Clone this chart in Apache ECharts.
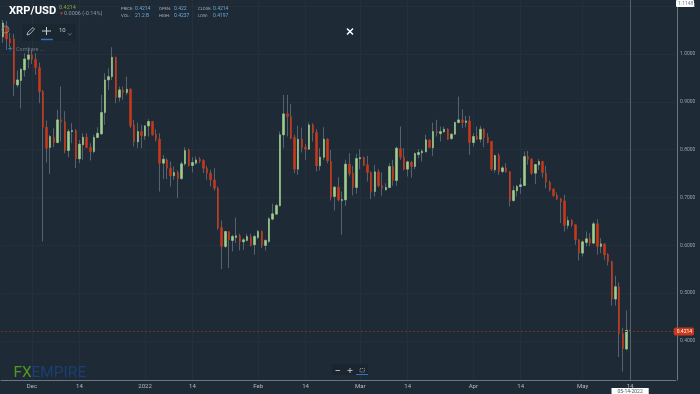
<!DOCTYPE html>
<html>
<head>
<meta charset="utf-8">
<style>
  html, body { margin: 0; padding: 0; background: #1e2a36; }
  #chart { width: 700px; height: 394px; }
</style>
</head>
<body>
<div id="chart"></div>
<script src="https://cdn.jsdelivr.net/npm/echarts@6/dist/echarts.min.js"></script>
<script>
// daily XRP/USD candles, 23 Nov 2021 -> 14 May 2022
const opens = [
  1.0355,1.0563,1.0313,1.0313,.9352,.9443,.9666,.9888,.9979,.9888,
  .9714,.9213,.8469,.8044,.8260,.8148,.8622,.8580,.7981,.8378,
  .8399,.7807,.8100,.8260,.8044,.7960,.8253,.8329,.8775,.9457,
  .9526,.9930,.9095,.9248,.9192,.9262,.8517,.8162,.8378,.8288,
  .8496,.8587,.8322,.8218,.7717,.7786,.7612,.7452,.7522,.7397,
  .7703,.7995,.7668,.7717,.7800,.7772,.7612,.7508,.7369,.7195,
  .6374,.5977,.6290,.6102,.6165,.6200,.6074,.6102,.6172,.6012,
  .6165,.6290,.5998,.6081,.6548,.6652,.6826,.8309,.8747,.8691,
  .8253,.7592,.8218,.8051,.8009,.8517,.8364,.7661,.7842,.8218,
  .7752,.7021,.7216,.6937,.6951,.7696,.7508,.7209,.7807,.7835,
  .7682,.7522,.7125,.7536,.7244,.7160,.7209,.7647,.7355,.8023,
  .7842,.7592,.7738,.7647,.7898,.7933,.7954,.8197,.8037,.8378,
  .8336,.8371,.8427,.8232,.8322,.8566,
  .8622,.8566,.8601,.8148,.8274,.8218,.8427,.8260,.8169,.7578,
  .7877,.7543,.7619,.7536,.6937,.7139,.7230,.7250,.7856,.7800,
  .7508,.7682,.7752,.7508,.7320,.7174,.7049,.6972,.6930,.6415,
  .6520,.6429,.6116,.5838,.6060,.6137,.6046,.6450,.5977,.6026,
  .5810,.5664,.4877,.5135,.4153,.3833,.4220
];
const closes = [
  1.0647,1.0313,1.0229,.9373,.9457,.9680,.9895,.9979,.9888,.9714,
  .9213,.8469,.8030,.8274,.8148,.8622,.8580,.7981,.8378,.8399,
  .7807,.8114,.8260,.8044,.7960,.8253,.8343,.8775,.9457,.9526,
  .9930,.9095,.9248,.9192,.9262,.8496,.8169,.8378,.8288,.8496,
  .8587,.8308,.8218,.7717,.7800,.7612,.7452,.7522,.7397,.7703,
  .7981,.7668,.7731,.7786,.7759,.7612,.7508,.7369,.7195,.6360,
  .5977,.6290,.6116,.6186,.6200,.6074,.6116,.6186,.5998,.6186,
  .6290,.5998,.6102,.6555,.6659,.6833,.8309,.8747,.8691,.8239,
  .7592,.8218,.8044,.8009,.8517,.8357,.7661,.7842,.8218,.7766,
  .7007,.7216,.6951,.6958,.7696,.7494,.7209,.7814,.7835,.7675,
  .7522,.7125,.7536,.7244,.7195,.7209,.7647,.7355,.8030,.7842,
  .7592,.7745,.7647,.7919,.7940,.7968,.8204,.8044,.8378,.8357,
  .8378,.8427,.8218,.8322,.8566,.8622,
  .8566,.8601,.8148,.8274,.8218,.8427,.8253,.8155,.7592,.7877,
  .7543,.7619,.7536,.6937,.7146,.7230,.7264,.7856,.7800,.7508,
  .7689,.7752,.7522,.7320,.7160,.7035,.6965,.6916,.6415,.6520,
  .6429,.6116,.5838,.6074,.6137,.6046,.6450,.5977,.6032,.5803,
  .5664,.4877,.5135,.4153,.3840,.4223,.4214
];
const lows = [
  1.0229,1.0083,1.0146,.9123,.9304,.8858,.9526,.9700,.9791,.9561,
  .8970,.6081,.7731,.7494,.8051,.8134,.8169,.7926,.7842,.8134,
  .7612,.7717,.7786,.8030,.7772,.7926,.8239,.8308,.8517,.9248,
  .9457,.8970,.9004,.9039,.9144,.8448,.8065,.8030,.8030,.8204,
  .8274,.8294,.8169,.7125,.7383,.7383,.7230,.7369,.6986,.7369,
  .7661,.7647,.7522,.7682,.7717,.7508,.7369,.7230,.7146,.6325,
  .5504,.5942,.5525,.5873,.6047,.5893,.5907,.6081,.5977,.5803,
  .6130,.5942,.5893,.6047,.6520,.6631,.6812,.8030,.8274,.8218,
  .7508,.7473,.7940,.7787,.7995,.8169,.7543,.7564,.7787,.7717,
  .6937,.6729,.6917,.6221,.6826,.7439,.7042,.7077,.7592,.7661,
  .7334,.6965,.7021,.7216,.7035,.7146,.7195,.7244,.7244,.7787,
  .7564,.7439,.7418,.7592,.7821,.7752,.7940,.8030,.7870,.8274,
  .8169,.8357,.8204,.8204,.8309,.8552,
  .8448,.8468,.7891,.8065,.8204,.8148,.8051,.8134,.7557,.7522,
  .7473,.7508,.7522,.6812,.6909,.7021,.7076,.7237,.7682,.7473,
  .7278,.7578,.7418,.7195,.7125,.7021,.6951,.6464,.6290,.6339,
  .6381,.6012,.5684,.5768,.5977,.5977,.6032,.5803,.5838,.5698,
  .5580,.4738,.4738,.3666,.3360,.3805,.4197
];
const highs = [
  1.0709,1.0689,1.0438,1.0417,.9652,.9700,1.0014,1.0139,1.0083,1.0014,
  .9819,.9248,.8608,.8308,.8448,.8830,.9318,.8803,.8427,.8552,
  .8427,.8204,.8343,.8343,.8134,.8308,.8469,.9144,.9596,.9700,
  1.0139,.9944,.9318,.9318,.9526,.9283,.8622,.8566,.8517,.8517,
  .8636,.8601,.8427,.8343,.7891,.7821,.7752,.7647,.7564,.7752,
  .8051,.8023,.7842,.7856,.7842,.7800,.7661,.7578,.7612,.7230,
  .6520,.6290,.6290,.6221,.6583,.6241,.6151,.6241,.6241,.6221,
  .6325,.6311,.6130,.6590,.6868,.6868,.8378,.9144,.9144,.8956,
  .8309,.8497,.8462,.8121,.8566,.8552,.8427,.8030,.8469,.8239,
  .7995,.7244,.7425,.7125,.7787,.7926,.7661,.7912,.8009,.7856,
  .7870,.7543,.7682,.7592,.7522,.7299,.7717,.7787,.8065,.8483,
  .8030,.7766,.7766,.7940,.8009,.8009,.8309,.8218,.8566,.8622,
  .8483,.8483,.8448,.8343,.8587,.9109,
  .8844,.8705,.8712,.8343,.8482,.8496,.8448,.8343,.8183,.7891,
  .7926,.7661,.7717,.7550,.7244,.7264,.7404,.7960,.7974,.7821,
  .7703,.7800,.7766,.7661,.7355,.7195,.7104,.6986,.7056,.6603,
  .6548,.6443,.6130,.6102,.6290,.6255,.6492,.6548,.6151,.6046,
  .5838,.5678,.5364,.5225,.4278,.4640,.4237
];

// x axis labels by date
const tickDates = ['2021-12-01','2021-12-14','2022-01-01','2022-01-14','2022-02-01','2022-02-14',
  '2022-03-01','2022-03-14','2022-04-01','2022-04-14','2022-05-01','2022-05-14'];
const tickLabels = ['Dec','14','2022','14','Feb','14','Mar','14','Apr','14','May','14'];
const priceTicks = [0.4, 0.5, 0.6, 0.7, 0.8, 0.9, 1.0, 1.1];
const lastPrice = 0.4214;

// categories: one per day, plus empty days to the right of the last candle
const categories = [];
for (let i = 0; i < opens.length + 12; i++) {
  categories.push(new Date(Date.UTC(2021, 10, 23 + i)).toISOString().slice(0, 10));
}
const isTick = (i, name) => tickDates.indexOf(name) >= 0;

const green = '#9fcf8e', red = '#c8381a', wick = '#56626d';
const bg = '#1e2a36', gridColor = '#24303c', axisColor = '#6d7781';
const font = 'Roboto';

const chart = echarts.init(document.getElementById('chart'));

// small helper for the header text
const txt = (x, y, text, fill, size, weight) => ({
  type: 'text', x, y, z: 50,
  style: { text, fill, fontSize: size, fontFamily: font, fontWeight: weight || 'normal', textVerticalAlign: 'middle' }
});
const line = (x1, y1, x2, y2, stroke, w) => ({
  type: 'line', z: 50, shape: { x1, y1, x2, y2 }, style: { stroke, lineWidth: w || 1 }
});
const labelColor = '#a8b0b8', valueColor = '#69a9d6';

const chrome = [
  // title block
  txt(9, 11, 'XRP/USD', '#ffffff', 11.2, 'bold'),
  txt(59, 7.5, '0.4214', '#7fae2e', 5.5),
  txt(59, 13.5, '▼', '#c8381a', 5),
  txt(64, 13.5, '0.0006 (-0.14%)', '#8f98a1', 5.5),
  txt(121, 8.5, 'PRICE:', labelColor, 4.2),
  txt(135, 8.5, '0.4214', valueColor, 5),
  txt(121, 16, 'VOL:', labelColor, 4.2),
  txt(135, 16, '21.2 B', valueColor, 5),
  txt(159, 8.5, 'OPEN:', labelColor, 4.2),
  txt(174, 8.5, '0.422', valueColor, 5),
  txt(159, 16, 'HIGH:', labelColor, 4.2),
  txt(174, 16, '0.4237', valueColor, 5),
  txt(198, 8.5, 'CLOSE:', labelColor, 4.2),
  txt(213, 8.5, '0.4214', valueColor, 5),
  txt(198, 16, 'LOW:', labelColor, 4.2),
  txt(213, 16, '0.4197', valueColor, 5),
  // drawing toolbar
  { type: 'rect', z: 40, shape: { x: 22, y: 24, width: 54, height: 17 }, style: { fill: 'rgba(24,34,44,0.55)' } },
  { type: 'circle', z: 50, shape: { cx: 5.5, cy: 29.5, r: 3.5 }, style: { fill: 'none', stroke: '#8a939c', lineWidth: 0.8 } },
  { type: 'polyline', z: 50, shape: { points: [[27, 35], [28, 32], [33, 27.5], [34.5, 29], [30, 34], [27, 35]] }, style: { fill: 'none', stroke: '#c9ced3', lineWidth: 0.8 } },
  line(42, 31, 51, 31, '#c9ced3', 1),
  line(46.5, 27, 46.5, 35, '#c9ced3', 1),
  line(41, 39.5, 53, 39.5, '#2e76c0', 1.5),
  txt(59, 30.5, '10', '#c4c9ce', 6),
  { type: 'polyline', z: 50, shape: { points: [[68, 33.5], [69.8, 35], [71.6, 33.5]] }, style: { fill: 'none', stroke: '#8a939c', lineWidth: 0.7 } },
  txt(8, 49, '+', '#2e76c0', 8, 'bold'),
  txt(16, 49.5, 'Compare ...', '#6d7781', 5.5),
  // close button
  line(347, 28.5, 353, 34.5, '#ffffff', 1.5),
  line(353, 28.5, 347, 34.5, '#ffffff', 1.5),
  // zoom controls
  { type: 'rect', z: 40, shape: { x: 332, y: 364, width: 36, height: 11 }, style: { fill: '#1a252f' } },
  line(335.5, 370.5, 340, 370.5, '#b0b6bc', 1),
  line(347.5, 370.5, 352.5, 370.5, '#b0b6bc', 1),
  line(350, 368, 350, 373, '#b0b6bc', 1),
  { type: 'rect', z: 50, shape: { x: 360, y: 368.5, width: 4.5, height: 3.5 }, style: { fill: 'none', stroke: '#b0b6bc', lineWidth: 0.7, lineDash: [1.2, 0.8] } },
  line(356, 374.5, 368, 374.5, '#2e76c0', 1),
  // logo
  txt(13.5, 373, 'FX', '#4f9a1e', 15.5),
  txt(31.5, 373, 'EMPIRE', '#1c3f74', 15.5),
  // crosshair price flag, top right
  { type: 'rect', z: 60, shape: { x: 676, y: 0, width: 18, height: 7, r: 1 }, style: { fill: '#ffffff' } },
  txt(678, 3.5, '1.1148', '#777f87', 5)
];
chrome[chrome.length - 1].z = 61;

const option = {
  animation: false,
  backgroundColor: bg,
  textStyle: { fontFamily: font },
  graphic: chrome,
  grid: { left: 1, top: 0, width: 674.7, height: 380, containLabel: false },
  xAxis: {
    type: 'category',
    data: categories,
    boundaryGap: true,
    axisLine: { lineStyle: { color: axisColor, width: 1 } },
    axisTick: { show: false },
    splitLine: { show: true, alignWithLabel: true, interval: isTick, lineStyle: { color: gridColor, width: 1 } },
    axisLabel: {
      interval: isTick,
      color: '#b4bac0',
      fontSize: 6,
      margin: 3,
      hideOverlap: false,
      formatter: (name) => tickLabels[tickDates.indexOf(name)]
    }
  },
  yAxis: {
    type: 'value',
    position: 'right',
    offset: 1.3,
    min: 0.3186,
    max: 1.1127,
    axisLine: { show: true, lineStyle: { color: axisColor, width: 1 } },
    axisTick: { show: false, customValues: priceTicks },
    splitLine: { show: true, lineStyle: { color: gridColor, width: 1 } },
    axisLabel: {
      customValues: priceTicks,
      color: '#98a1a9',
      fontSize: 5,
      margin: 3,
      formatter: (v) => v.toFixed(4)
    }
  },
  series: [
    {
      // wicks, with the crosshair and last price lines
      name: 'wicks',
      type: 'candlestick',
      barWidth: 1,
      silent: true,
      itemStyle: { color: wick, color0: wick, borderColor: wick, borderColor0: wick, borderWidth: 1 },
      data: opens.map((o, i) => [o, closes[i], lows[i], highs[i]]),
      markLine: {
        silent: true,
        symbol: 'none',
        animation: false,
        data: [
          {
            yAxis: lastPrice,
            lineStyle: { color: '#6e3526', type: [2, 2], width: 1 },
            label: {
              position: 'end', distance: -2, formatter: '0.4214', color: '#fff', fontSize: 5,
              backgroundColor: red, padding: [2, 2, 1, 3], borderRadius: 2
            }
          },
          {
            xAxis: tickDates[tickDates.length - 1],
            lineStyle: { color: '#56626d', type: 'solid', width: 1 },
            label: {
              position: 'start', distance: 8, formatter: '05-14-2022', color: '#4a525a', fontSize: 5,
              backgroundColor: '#ffffff', padding: [1, 6, 1, 6]
            }
          }
        ]
      }
    },
    {
      // bodies only, open to close
      name: 'XRP/USD',
      type: 'candlestick',
      barWidth: 2,
      z: 3,
      itemStyle: { color: green, color0: red, borderColor: green, borderColor0: red, borderWidth: 0.6 },
      data: opens.map((o, i) => [o, closes[i], Math.min(o, closes[i]), Math.max(o, closes[i])])
    }
  ]
};

chart.setOption(option);
</script>
</body>
</html>
